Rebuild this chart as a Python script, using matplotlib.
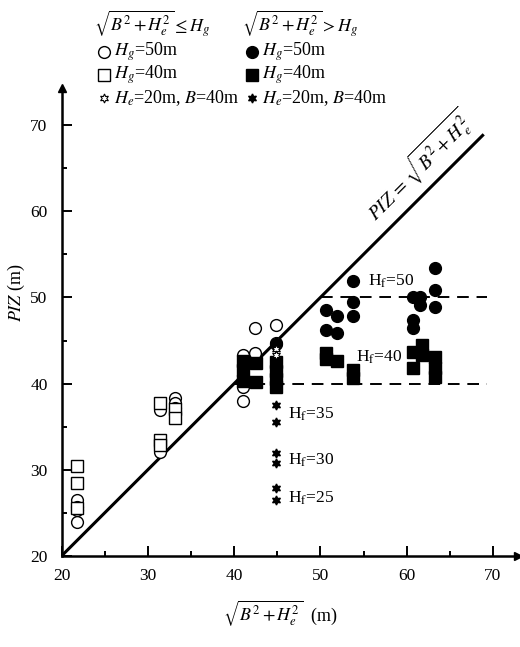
import numpy as np
import matplotlib
matplotlib.use("Agg")
import matplotlib.pyplot as plt
from matplotlib.lines import Line2D

plt.rcParams['font.family'] = ['Liberation Serif', 'DejaVu Serif']
plt.rcParams['mathtext.fontset'] = 'stix'

# data: x = sqrt(B^2 + He^2), y = PIZ
open_circ_x = [21.8, 21.8, 21.8, 21.8, 31.4, 31.4, 31.4, 33.1, 33.1, 33.1, 33.1,
               41.0, 41.0, 41.0, 42.4, 42.4, 44.8, 44.8]
open_circ_y = [26.5, 25.7, 25.3, 24.0, 36.9, 32.7, 32.1, 38.3, 37.7, 37.2, 36.8,
               43.3, 39.6, 38.0, 46.4, 43.6, 46.8, 44.7]

open_sq_x = [21.8, 21.8, 21.8, 31.4, 31.4, 31.4, 33.1, 33.1]
open_sq_y = [30.5, 28.5, 25.6, 37.7, 33.5, 32.9, 37.0, 36.0]

open_star_x = [44.8, 44.8]
open_star_y = [44.0, 43.3]

fill_circ_x = [44.8, 50.7, 50.7, 51.9, 51.9, 53.8, 53.8, 53.8,
               60.7, 60.7, 60.7, 61.6, 61.6, 63.3, 63.3, 63.3]
fill_circ_y = [44.6, 48.5, 46.2, 47.9, 45.9, 51.9, 49.5, 47.8,
               50.1, 47.4, 46.4, 50.1, 49.1, 53.4, 50.9, 48.9]

fill_sq_x = [41.0, 41.0, 41.0, 42.5, 42.5, 44.8, 44.8, 44.8, 44.8,
             50.7, 50.7, 51.9, 53.8, 53.8, 60.7, 60.7, 61.8, 61.8, 63.3, 63.3, 63.3]
fill_sq_y = [42.6, 41.6, 40.3, 42.4, 40.2, 42.5, 41.5, 40.5, 39.6,
             43.6, 42.8, 42.6, 41.6, 40.6, 43.7, 41.8, 44.5, 43.3, 43.1, 41.8, 40.8]

fill_star_x = [44.8, 44.8, 44.8, 44.8, 44.8, 44.8]
fill_star_y = [37.5, 35.6, 32.0, 30.8, 27.9, 26.5]

hf_levels = [50, 40]
hf_labels = ["50", "40", "35", "30", "25"]
hf_label_x = [55.5, 54.1, 46.2, 46.2, 46.2]
hf_label_y = [51.9, 43.1, 36.4, 31.1, 26.7]

W, H = 520, 647
fig = plt.figure(figsize=(5.2, 6.47), dpi=100)
ax = fig.add_axes([61.5 / W, 1 - 556 / H, (518 - 61.5) / W, (556 - 88) / H])
ax.set_xlim(20, 72.9)
ax.set_ylim(20, 74.3)

for s in ['top', 'right']:
    ax.spines[s].set_visible(False)
for s in ['left', 'bottom']:
    ax.spines[s].set_linewidth(1.8)
ax.plot(1, 0, ">k", ms=6, transform=ax.transAxes, clip_on=False)
ax.plot(0, 1, "^k", ms=6, transform=ax.transAxes, clip_on=False)

ax.set_xticks([20, 30, 40, 50, 60, 70])
ax.set_yticks([20, 30, 40, 50, 60, 70])
ax.set_xticks(np.arange(25, 70, 10), minor=True)
ax.set_yticks(np.arange(25, 70, 10), minor=True)
ax.tick_params(which='major', direction='in', length=7, width=1.4, labelsize=12.5)
ax.tick_params(which='minor', direction='in', length=3.6, width=1.4)
ax.tick_params(axis='x', pad=9)
ax.tick_params(axis='y', pad=10)

# 1:1 line and Hf levels
ax.plot([20, 68.8], [20, 68.8], color='black', lw=2.2, zorder=2)
ax.plot([40, 69.3], [hf_levels[1]] * 2, color='black', lw=1.4, ls=(0, (6, 4)), zorder=1)
ax.plot([50.1, 69.3], [hf_levels[0]] * 2, color='black', lw=1.4, ls=(0, (6, 4)), zorder=1)

star = (6, 1, 0)
ax.plot(open_circ_x, open_circ_y, 'o', ms=8.5, mfc='white', mec='black', mew=1.0, ls='none', zorder=3)
ax.plot(open_sq_x, open_sq_y, 's', ms=8.5, mfc='white', mec='black', mew=1.0, ls='none', zorder=3)
ax.plot(fill_sq_x, fill_sq_y, 's', ms=8.5, color='black', ls='none', zorder=4)
ax.plot(fill_circ_x, fill_circ_y, 'o', ms=8.5, color='black', ls='none', zorder=4)
ax.plot(open_star_x, open_star_y, marker=star, ms=6.5, mfc='white', mec='black', mew=0.8, ls='none', zorder=5)
ax.plot(fill_star_x, fill_star_y, marker=star, ms=6.5, color='black', ls='none', zorder=5)

for lab, x, y in zip(hf_labels, hf_label_x, hf_label_y):
    ax.text(x, y, r"H$_{\rm f}$=" + lab, fontsize=12.5, ha='left', va='center')

ax.text(61.4, 65.3, r"$PIZ\,=\,\sqrt{B^2+H_e^2}$", fontsize=14, rotation=45,
        ha='center', va='center', rotation_mode='anchor')

# axis titles
fig.text(280 / W, 1 - 613 / H, r"$\sqrt{B^2+H_e^2}$  (m)", fontsize=13, ha='center', va='center')
fig.text(16 / W, 1 - 293 / H, r"$PIZ$ (m)", fontsize=13, rotation=90, ha='center', va='center')

# legend, laid out by hand
def px(x, y):
    return x / W, 1 - y / H

fig.text(*px(94, 24), r"$\sqrt{B^2+H_e^2}\leq H_g$", fontsize=13, ha='left', va='center')
fig.text(*px(242, 24), r"$\sqrt{B^2+H_e^2}>H_g$", fontsize=13, ha='left', va='center')

leg_rows = [52, 75, 98]
leg_texts = [r"$H_g$=50m", r"$H_g$=40m", r"$H_e$=20m, $B$=40m"]
open_styles = [dict(marker='o', ms=8.5, mfc='white', mec='black', mew=1.0),
               dict(marker='s', ms=8.5, mfc='white', mec='black', mew=1.0),
               dict(marker=star, ms=6.5, mfc='white', mec='black', mew=0.8)]
fill_styles = [dict(marker='o', ms=8.5, color='black'),
               dict(marker='s', ms=8.5, color='black'),
               dict(marker=star, ms=6.5, color='black')]
for y, t, so, sf in zip(leg_rows, leg_texts, open_styles, fill_styles):
    for x0, st in [(104, so), (252, sf)]:
        mx, my = px(x0, y)
        fig.add_artist(Line2D([mx], [my], ls='none', transform=fig.transFigure, **st))
        fig.text(*px(x0 + 10, y), t, fontsize=13, ha='left', va='center')

fig.savefig("out.png", dpi=100)
